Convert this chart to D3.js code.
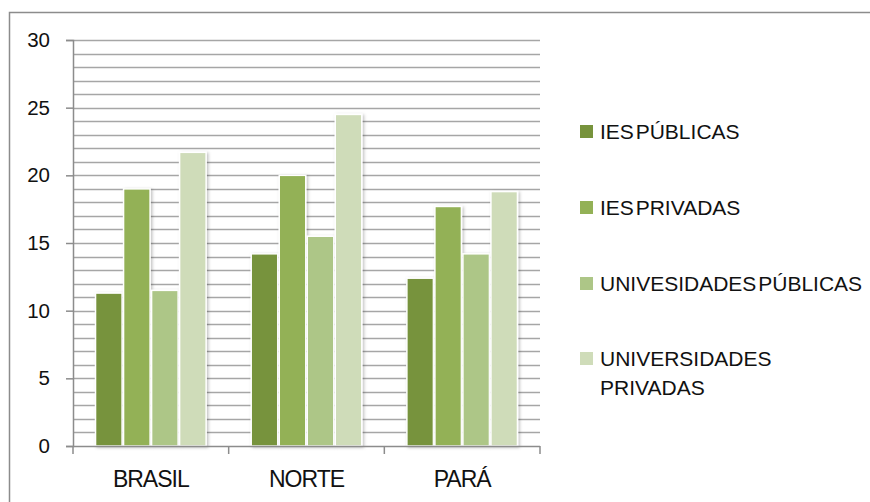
<!DOCTYPE html>
<html>
<head>
<meta charset="utf-8">
<script src="https://cdn.jsdelivr.net/npm/d3@7"></script>
<style>
  html, body { margin: 0; padding: 0; background: #fff; }
  svg { display: block; }
  .tick-label { font-family: "Liberation Sans", Arial, sans-serif; font-size: 20.5px; fill: #111; }
  .cat-label { font-family: "Liberation Sans", Arial, sans-serif; font-size: 23px; letter-spacing: -1px; fill: #111; }
  .legend-text { font-family: "Liberation Sans", Arial, sans-serif; font-size: 21px; word-spacing: -4px; fill: #111; }
</style>
</head>
<body>
<div id="chart"></div>
<script>
// Data
const categories = ["BRASIL", "NORTE", "PARÁ"];
const seriesNames = ["IES PÚBLICAS", "IES PRIVADAS", "UNIVESIDADES PÚBLICAS", "UNIVERSIDADES PRIVADAS"];
const iesPublicas = [11.3, 14.2, 12.4];
const iesPrivadas = [19.0, 20.0, 17.7];
const univPublicas = [11.5, 15.5, 14.2];
const univPrivadas = [21.7, 24.5, 18.8];
const yTicks = [0, 5, 10, 15, 20, 25, 30];

const colors = ["#77933c", "#93b156", "#adc687", "#cfdcb9"];

const WIDTH = 870;
const HEIGHT = 502;
const plot = { left: 73, right: 540, top: 40, bottom: 446 };

const svg = d3.select("#chart")
  .append("svg")
  .attr("width", WIDTH)
  .attr("height", HEIGHT);

// soft shadow like the office chart
const defs = svg.append("defs");
const filter = defs.append("filter")
  .attr("id", "shadow")
  .attr("x", "-20%").attr("y", "-5%")
  .attr("width", "150%").attr("height", "115%");
filter.append("feDropShadow")
  .attr("dx", 1.5).attr("dy", 1)
  .attr("stdDeviation", 1.5)
  .attr("flood-color", "#000")
  .attr("flood-opacity", 0.25);

// outer frame
svg.append("rect")
  .attr("x", 9.5).attr("y", 12.5)
  .attr("width", WIDTH).attr("height", HEIGHT)
  .attr("fill", "none")
  .attr("stroke", "#8c8c8c")
  .attr("stroke-width", 1.5);

const y = d3.scaleLinear().domain([0, 30]).range([plot.bottom, plot.top]);

const x0 = d3.scaleBand()
  .domain(categories)
  .range([plot.left, plot.right])
  .paddingInner(0.28)
  .paddingOuter(0.14);

const x1 = d3.scaleBand()
  .domain(d3.range(seriesNames.length))
  .range([0, x0.bandwidth()]);

// gridlines every unit
const gridValues = d3.range(1, 31);
svg.append("g")
  .selectAll("line")
  .data(gridValues)
  .join("line")
  .attr("x1", plot.left)
  .attr("x2", plot.right)
  .attr("y1", d => Math.round(y(d)) + 0.5)
  .attr("y2", d => Math.round(y(d)) + 0.5)
  .attr("stroke", "#a6a6a6")
  .attr("stroke-width", 1.3);

// y axis
const yAxis = svg.append("g")
  .attr("transform", `translate(${plot.left},0)`)
  .call(d3.axisLeft(y).tickValues(yTicks).tickSize(7).tickPadding(16));
yAxis.select(".domain").attr("stroke", "#8c8c8c").attr("stroke-width", 1.5);
yAxis.selectAll(".tick line").attr("stroke", "#8c8c8c").attr("stroke-width", 1.5);
yAxis.selectAll(".tick text")
  .attr("class", "tick-label")
  .attr("font-family", null)
  .attr("font-size", null)
  .attr("fill", null);

// bars
const rows = categories.map((c, i) => ({
  cat: c,
  values: [iesPublicas[i], iesPrivadas[i], univPublicas[i], univPrivadas[i]]
}));

const groups = svg.append("g")
  .selectAll("g")
  .data(rows)
  .join("g")
  .attr("transform", d => `translate(${x0(d.cat)},0)`);

groups.selectAll("rect")
  .data(d => d.values.map((v, k) => ({ v, k })))
  .join("rect")
  .attr("x", d => x1(d.k) + 0.75)
  .attr("y", d => y(d.v))
  .attr("width", x1.bandwidth() - 1.5)
  .attr("height", d => plot.bottom - y(d.v))
  .attr("fill", d => colors[d.k])
  .attr("stroke", "#fff")
  .attr("stroke-width", 1.5)
  .attr("filter", "url(#shadow)");

// x axis
const xEdges = [plot.left].concat(categories.map(c => x0(c) + x0.bandwidth() + x0.step() * 0.14));
svg.append("line")
  .attr("x1", plot.left).attr("x2", plot.right)
  .attr("y1", plot.bottom + 0.5).attr("y2", plot.bottom + 0.5)
  .attr("stroke", "#8c8c8c").attr("stroke-width", 1.5);
svg.append("g")
  .selectAll("line")
  .data(xEdges)
  .join("line")
  .attr("x1", d => d).attr("x2", d => d)
  .attr("y1", plot.bottom).attr("y2", plot.bottom + 8)
  .attr("stroke", "#8c8c8c").attr("stroke-width", 1.5);

svg.append("g")
  .selectAll("text")
  .data(categories)
  .join("text")
  .attr("class", "cat-label")
  .attr("x", d => x0(d) + x0.bandwidth() / 2)
  .attr("y", 487)
  .attr("text-anchor", "middle")
  .text(d => d);

// legend
const legendRows = [
  { lines: ["IES PÚBLICAS"], y: 131 },
  { lines: ["IES PRIVADAS"], y: 207 },
  { lines: ["UNIVESIDADES PÚBLICAS"], y: 283 },
  { lines: ["UNIVERSIDADES", "PRIVADAS"], y: 358 }
];
const legend = svg.append("g")
  .selectAll("g")
  .data(legendRows)
  .join("g");

legend.append("rect")
  .attr("x", 580)
  .attr("y", d => d.y - 6)
  .attr("width", 13)
  .attr("height", 13)
  .attr("fill", (d, i) => colors[i]);

legend.append("text")
  .attr("class", "legend-text")
  .attr("x", 600)
  .attr("y", d => d.y + 7.5)
  .selectAll("tspan")
  .data(d => d.lines)
  .join("tspan")
  .attr("x", 600)
  .attr("dy", (d, i) => i === 0 ? 0 : 29)
  .text(d => d);
</script>
</body>
</html>
